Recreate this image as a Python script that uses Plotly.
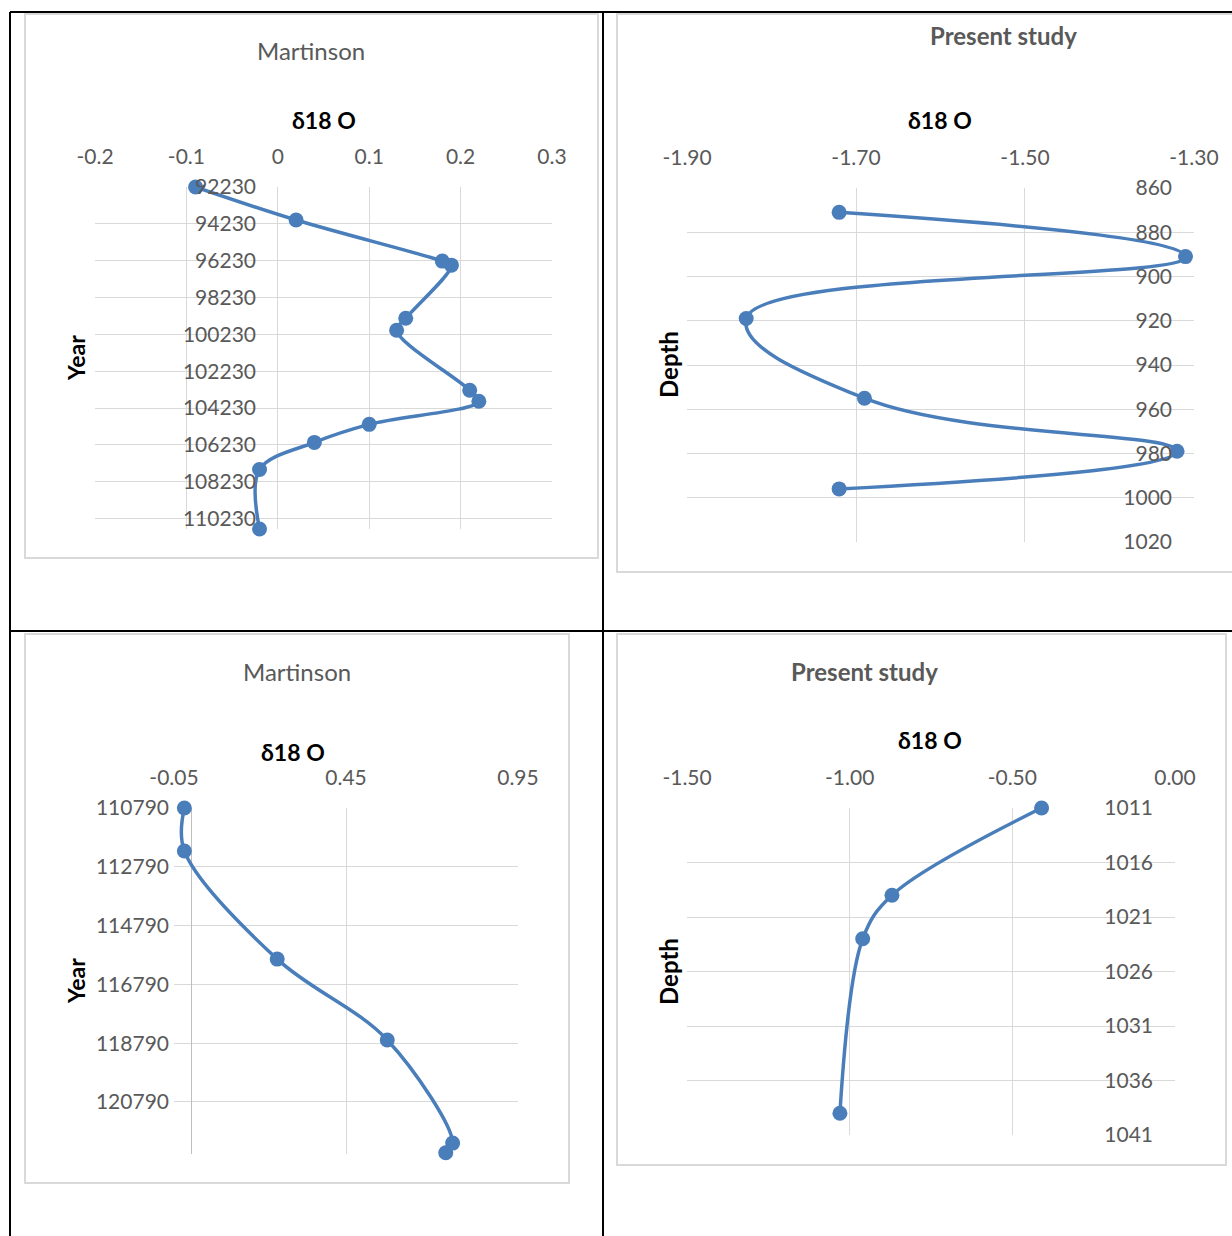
import plotly.graph_objects as go

W, H = 1232, 1236

# ---- data -------------------------------------------------------------
# Martinson, upper panel (delta18O vs year)
mart1_d18o = [-0.09, 0.02, 0.18, 0.19, 0.14, 0.13, 0.21, 0.22, 0.10, 0.04, -0.02, -0.02]
mart1_year = [92230, 94020, 96250, 96470, 99350, 100000, 103260, 103860, 105110, 106090, 107560, 110790]
mart1_xticks = [-0.2, -0.1, 0, 0.1, 0.2, 0.3]
mart1_xlabels = ["-0.2", "-0.1", "0", "0.1", "0.2", "0.3"]
mart1_yticks = [92230, 94230, 96230, 98230, 100230, 102230, 104230, 106230, 108230, 110230]

# Present study, upper panel (delta18O vs depth)
pres1_d18o = [-1.72, -1.31, -1.83, -1.69, -1.32, -1.72]
pres1_depth = [871, 891, 919, 955, 979, 996]
pres1_xticks = [-1.90, -1.70, -1.50, -1.30]
pres1_xlabels = ["-1.90", "-1.70", "-1.50", "-1.30"]
pres1_yticks = [860, 880, 900, 920, 940, 960, 980, 1000, 1020]

# Martinson, lower panel
mart2_d18o = [-0.02, -0.02, 0.25, 0.57, 0.76, 0.74]
mart2_year = [110790, 112250, 115930, 118680, 122190, 122520]
mart2_xticks = [-0.05, 0.45, 0.95]
mart2_xlabels = ["-0.05", "0.45", "0.95"]
mart2_yticks = [110790, 112790, 114790, 116790, 118790, 120790]

# Present study, lower panel
pres2_d18o = [-0.41, -0.87, -0.96, -1.03]
pres2_depth = [1011, 1019, 1023, 1039]
pres2_xticks = [-1.50, -1.00, -0.50, 0.00]
pres2_xlabels = ["-1.50", "-1.00", "-0.50", "0.00"]
pres2_yticks = [1011, 1016, 1021, 1026, 1031, 1036, 1041]

# ---- styling ----------------------------------------------------------
FONT = "Lato"
BLUE = "#4a7ebb"
GRID = "#d9d9d9"
TICK = "#595959"
TICK_SIZE = 21


def fx(px):
    return px / W


def fy(py):
    return 1 - py / H


fig = go.Figure()

panels = [
    dict(x=mart1_d18o, y=mart1_year, xr=[-0.2, 0.3], yr=[110790, 92230],
         xt=mart1_xticks, xl=mart1_xlabels, yt=mart1_yticks,
         box=(95, 187, 552, 529), yax=278, zl=False, smooth=1.0),
    dict(x=pres1_d18o, y=pres1_depth, xr=[-1.90, -1.30], yr=[1020, 860],
         xt=pres1_xticks, xl=pres1_xlabels, yt=pres1_yticks,
         box=(687, 188, 1194, 542), yax=1194, zl=False, smooth=1.3),
    dict(x=mart2_d18o, y=mart2_year, xr=[-0.05, 0.95], yr=[122560, 110790],
         xt=mart2_xticks, xl=mart2_xlabels, yt=mart2_yticks,
         box=(174, 808, 518, 1154), yax=191, zl=True, smooth=1.0),
    dict(x=pres2_d18o, y=pres2_depth, xr=[-1.50, 0.0], yr=[1041, 1011],
         xt=pres2_xticks, xl=pres2_xlabels, yt=pres2_yticks,
         box=(687, 808, 1175, 1135), yax=1175, zl=False, smooth=1.0),
]

layout_axes = {}
for i, p in enumerate(panels, start=1):
    sfx = "" if i == 1 else str(i)
    x0, y0, x1, y1 = p["box"]
    fig.add_trace(go.Scatter(
        x=p["x"], y=p["y"], xaxis="x" + sfx, yaxis="y" + sfx,
        mode="lines+markers",
        line=dict(color=BLUE, width=3.5, shape="spline", smoothing=p["smooth"]),
        marker=dict(color=BLUE, size=15),
        showlegend=False, cliponaxis=False,
    ))
    xpad = (p["xr"][1] - p["xr"][0]) * 1e-4
    layout_axes["xaxis" + sfx] = dict(
        domain=[fx(x0), fx(x1)], anchor="y" + sfx, side="top",
        range=[p["xr"][0] - xpad, p["xr"][1] + xpad],
        tickmode="array", tickvals=p["xt"], ticktext=p["xl"],
        showgrid=True, gridcolor=GRID, gridwidth=1,
        zeroline=p["zl"], zerolinecolor="#bfbfbf", zerolinewidth=1,
        showline=False, ticks="", ticklabelstandoff=18, automargin=False,
        tickfont=dict(family=FONT, size=TICK_SIZE, color=TICK),
        fixedrange=True,
    )
    ypad = (p["yr"][0] - p["yr"][1]) * 1e-4
    layout_axes["yaxis" + sfx] = dict(
        domain=[fy(y1), fy(y0)], anchor="free", position=fx(p["yax"]), side="left",
        range=[p["yr"][0], p["yr"][1] - ypad],
        tickmode="array", tickvals=p["yt"], ticktext=[str(v) for v in p["yt"]],
        showgrid=True, gridcolor=GRID, gridwidth=1,
        zeroline=False, showline=False, ticks="", ticklabelstandoff=22, automargin=False,
        tickfont=dict(family=FONT, size=TICK_SIZE, color=TICK),
        fixedrange=True,
    )

# chart frames (light grey) and table rules (black)
shapes = []
for (a, b, c, d) in [(25, 14, 598, 558), (617, 14, 1236, 572), (25, 634, 569, 1183), (617, 634, 1226, 1165)]:
    shapes.append(dict(type="rect", xref="paper", yref="paper",
                       x0=fx(a), y0=fy(d), x1=fx(c), y1=fy(b),
                       line=dict(color="#d9d9d9", width=2), fillcolor="rgba(0,0,0,0)", layer="below"))
for (a, b, c, d) in [(10, 12, 1232, 12), (10, 631, 1232, 631), (10, 12, 10, 1236), (603, 12, 603, 1236)]:
    shapes.append(dict(type="line", xref="paper", yref="paper",
                       x0=fx(a), y0=fy(b), x1=fx(c), y1=fy(d),
                       line=dict(color="#000000", width=2)))

annotations = []


def label(text, px, py, size, color, bold=False, angle=0):
    annotations.append(dict(
        text=f"<b>{text}</b>" if bold else text,
        xref="paper", yref="paper", x=fx(px), y=fy(py),
        xanchor="center", yanchor="middle", showarrow=False, textangle=angle,
        font=dict(family=FONT, size=size, color=color),
    ))


label("Martinson", 311, 51, 24, TICK)
label("δ18 O", 324, 120, 23, "#000000", bold=True)
label("Year", 76, 358, 23, "#000000", bold=True, angle=-90)

label("Present study", 1003, 35, 24, TICK, bold=True)
label("δ18 O", 940, 120, 23, "#000000", bold=True)
label("Depth", 668, 365, 24, "#000000", bold=True, angle=-90)

label("Martinson", 297, 671, 24, TICK)
label("δ18 O", 293, 752, 23, "#000000", bold=True)
label("Year", 76, 981, 23, "#000000", bold=True, angle=-90)

label("Present study", 864, 671, 24, TICK, bold=True)
label("δ18 O", 930, 740, 23, "#000000", bold=True)
label("Depth", 668, 972, 24, "#000000", bold=True, angle=-90)

fig.update_layout(
    width=W, height=H,
    margin=dict(l=0, r=0, t=0, b=0, autoexpand=False),
    paper_bgcolor="white", plot_bgcolor="rgba(0,0,0,0)",
    shapes=shapes, annotations=annotations,
    **layout_axes,
)

fig.write_html("out.html", include_plotlyjs=True, config={"displayModeBar": False})
